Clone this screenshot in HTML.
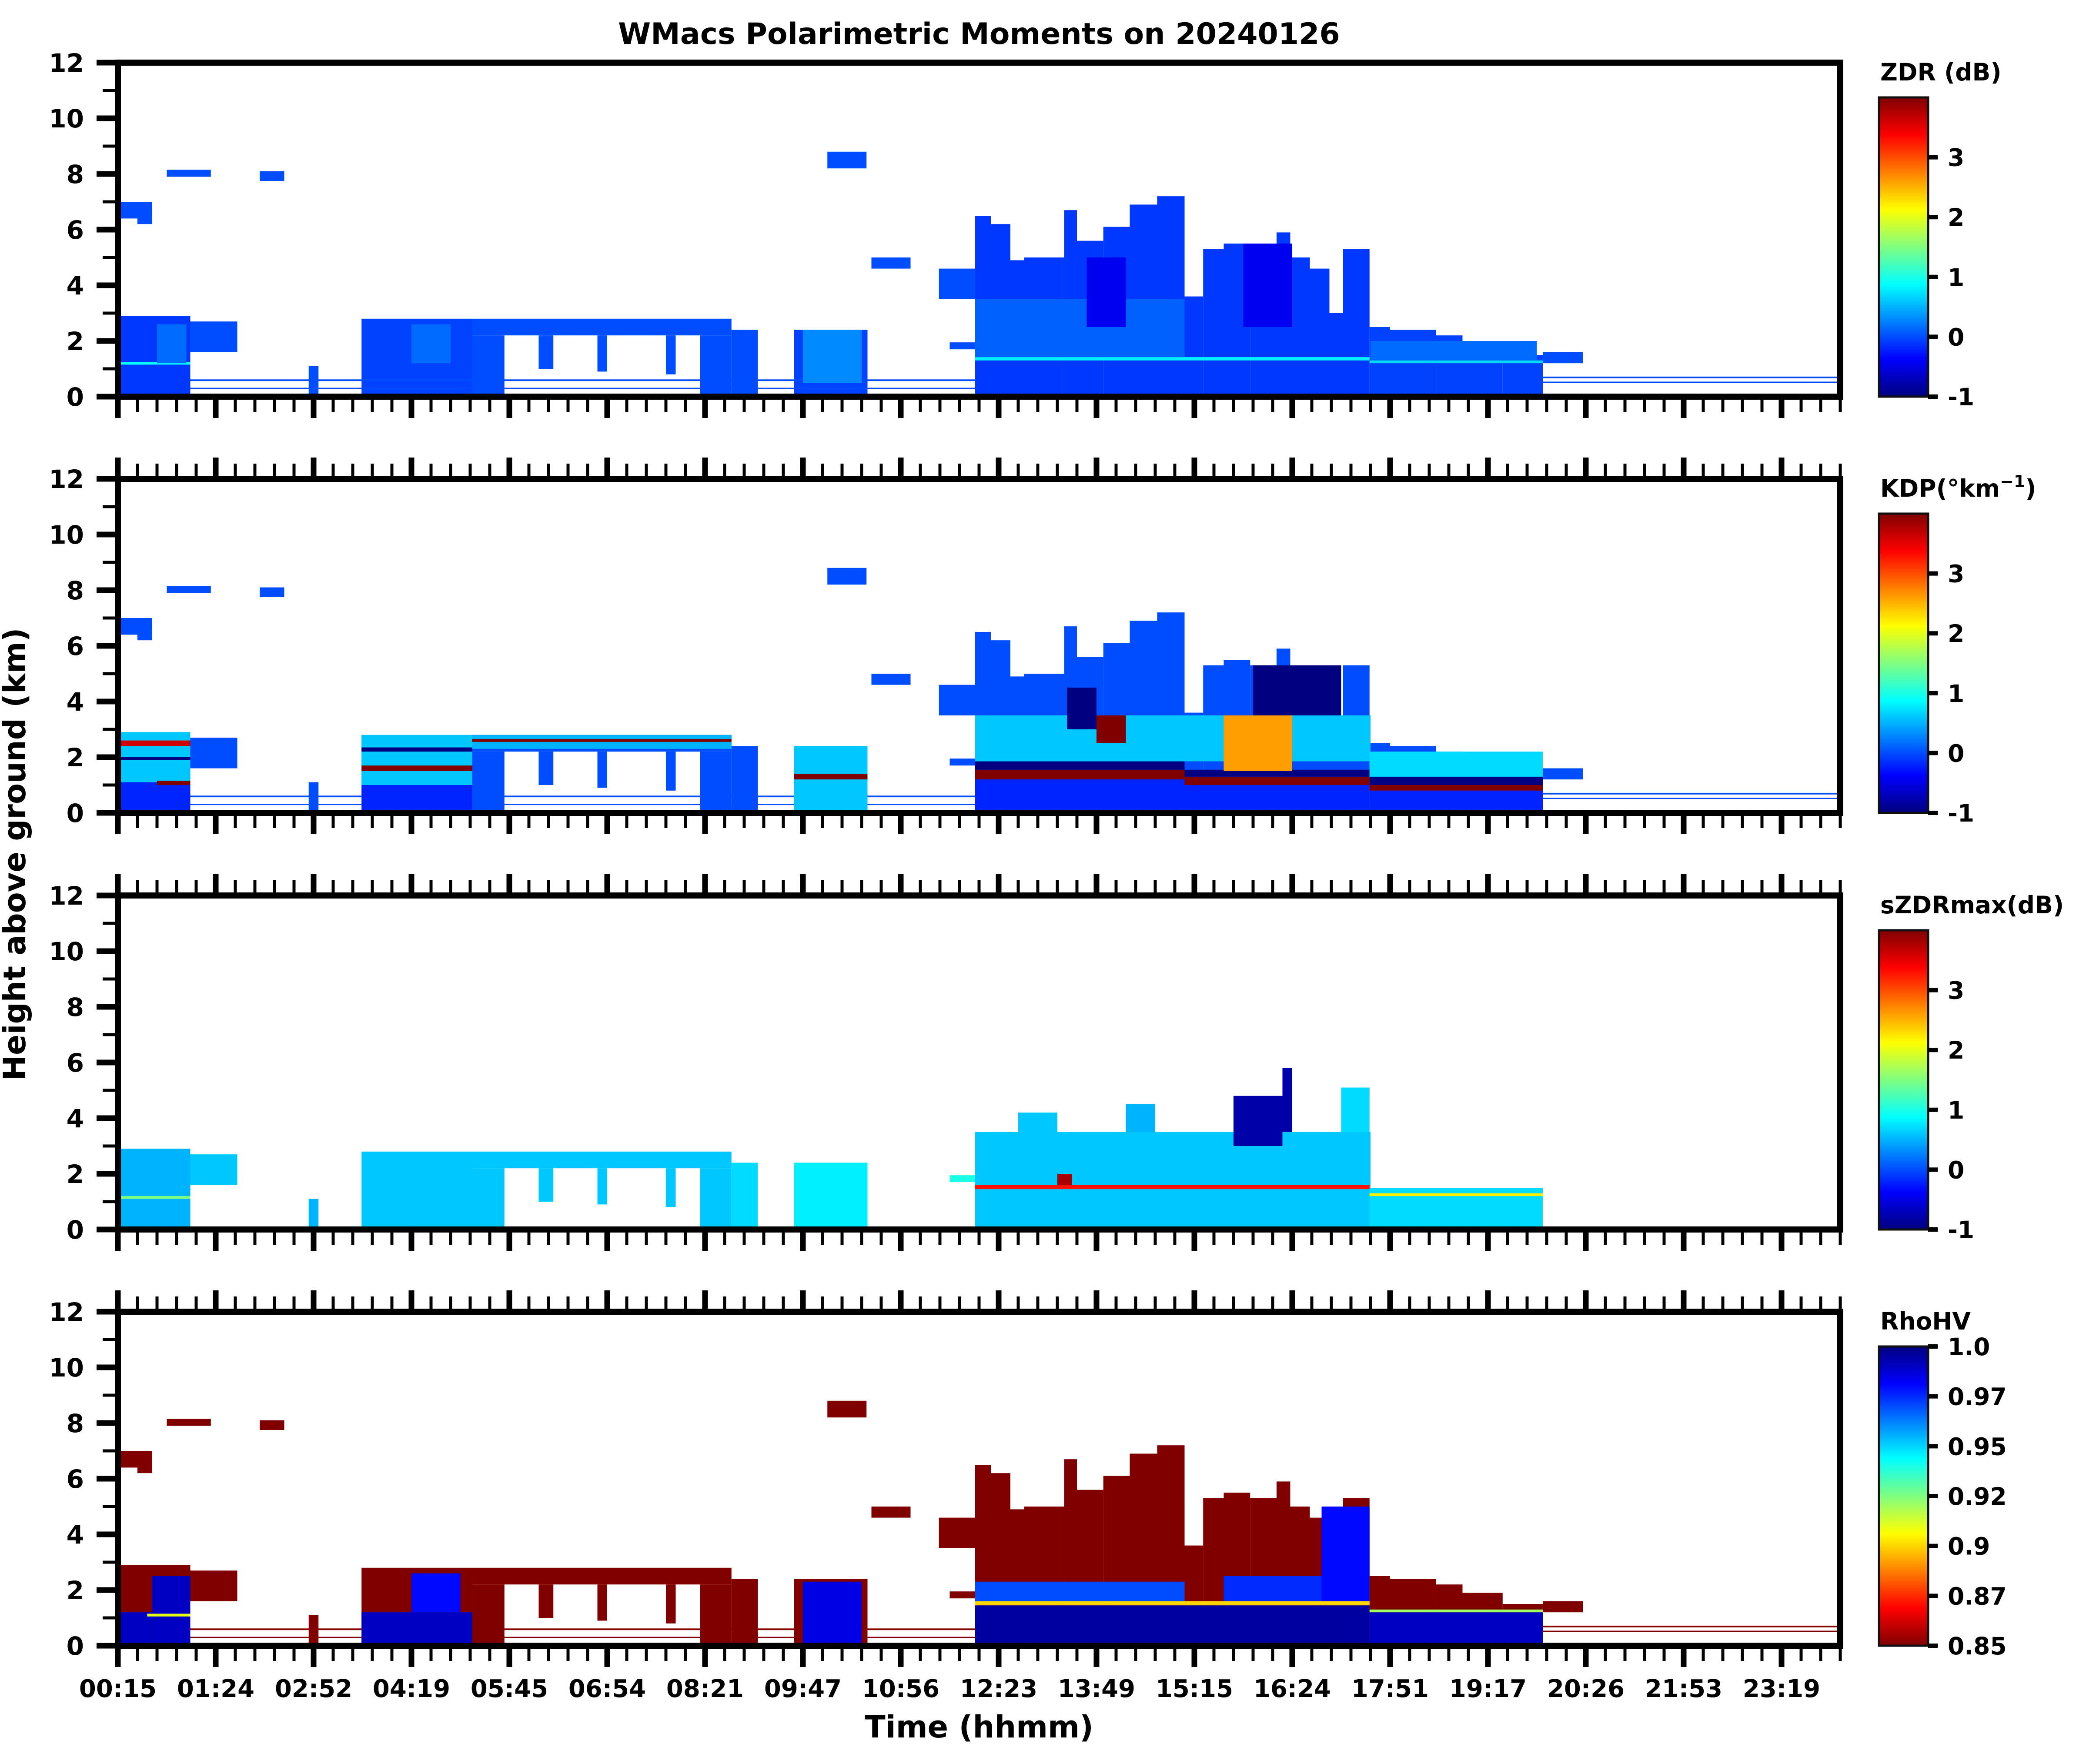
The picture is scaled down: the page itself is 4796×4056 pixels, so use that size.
<!DOCTYPE html>
<html><head><meta charset="utf-8"><style>
html,body{margin:0;padding:0;background:#fff;}
svg{display:block;font-family:"DejaVu Sans","Liberation Sans",sans-serif;font-weight:bold;}
</style></head><body>
<svg id="fig" width="4796" height="4056" viewBox="0 0 4796 4056" xmlns="http://www.w3.org/2000/svg">
<defs>
<linearGradient id="jetGrad" x1="0" y1="1" x2="0" y2="0">
<stop offset="0" stop-color="#000080"/><stop offset="0.125" stop-color="#0000ff"/><stop offset="0.375" stop-color="#00ffff"/><stop offset="0.5" stop-color="#80ff80"/><stop offset="0.625" stop-color="#ffff00"/><stop offset="0.875" stop-color="#ff0000"/><stop offset="1" stop-color="#800000"/>
</linearGradient>
<linearGradient id="jetGradR" x1="0" y1="0" x2="0" y2="1">
<stop offset="0" stop-color="#000080"/><stop offset="0.125" stop-color="#0000ff"/><stop offset="0.375" stop-color="#00ffff"/><stop offset="0.5" stop-color="#80ff80"/><stop offset="0.625" stop-color="#ffff00"/><stop offset="0.875" stop-color="#ff0000"/><stop offset="1" stop-color="#800000"/>
</linearGradient>
</defs>
<text x="2251" y="101" font-size="68" text-anchor="middle">WMacs Polarimetric Moments on 20240126</text>
<text x="2251" y="3995" font-size="70" text-anchor="middle">Time (hhmm)</text>
<text x="0" y="0" font-size="70" text-anchor="middle" transform="translate(58,1964) rotate(-90)">Height above ground (km)</text>
</svg>
<script>
// ---- data ----
const timeTickLabels = ["00:15","01:24","02:52","04:19","05:45","06:54","08:21","09:47","10:56","12:23","13:49","15:15","16:24","17:51","19:17","20:26","21:53","23:19"];
const heightTicks = [0,2,4,6,8,10,12];
const panelTitles = ["ZDR (dB)","KDP","sZDRmax(dB)","RhoHV"];
const zdrCbarTicks = [-1,0,1,2,3];
const rhoCbarTicks = [0.85,0.875,0.9,0.925,0.95,0.975,1.0];
const rhoCbarLabels = ["0.85","0.87","0.9","0.92","0.95","0.97","1.0"];
// shared echo cells: [t0,t1,h0,h1] in time-tick units / km
const cloudCells = [
 [0,0.74,0,2.9],[0.74,1.22,1.6,2.7],[0.02,0.35,6.4,7.0],[0.2,0.35,6.2,6.5],[0.5,0.95,7.9,8.15],[1.45,1.7,7.75,8.1],
 [1.95,2.05,0,1.1],[2.49,3.62,0,2.8],[3.62,6.27,2.2,2.8],[3.62,3.95,0,2.2],[4.3,4.45,1.0,2.2],[4.9,5.0,0.9,2.2],
 [5.6,5.7,0.8,2.2],[5.95,6.27,0,2.2],[6.27,6.54,0,2.4],[6.91,7.66,0,2.4],[7.7,8.1,4.6,5.0],[7.25,7.65,8.2,8.8],
 [8.39,8.76,3.5,4.6],[8.5,8.76,1.7,1.95],
 [8.76,8.92,0,6.5],[8.92,9.12,0,6.2],[9.12,9.26,0,4.9],[9.26,9.67,0,5.0],[9.67,9.8,0,6.7],[9.8,10.07,0,5.6],
 [10.07,10.34,0,6.1],[10.34,10.62,0,6.9],[10.62,10.9,0,7.2],[10.9,11.09,0,3.6],[11.09,11.3,0,5.3],[11.3,11.57,0,5.5],
 [11.57,11.84,0,5.3],[11.84,11.98,0,5.9],[11.98,12.18,0,5.0],[12.18,12.38,0,4.6],[12.38,12.52,0,3.0],[12.52,12.79,0,5.3],
 [12.79,13.0,0,2.5],[13.0,13.47,0,2.4],[13.47,13.74,0,2.2],[13.74,14.15,0,1.9],[14.15,14.56,0,1.5],[14.56,14.97,1.2,1.6],
 [0.74,8.76,0.56,0.62],[0.74,8.76,0.28,0.32],[14.56,17.6,0.66,0.72],[14.56,17.6,0.5,0.54]
];
const zdrCellValues = [-0.1,0,0,0,0,0, 0,-0.05,0,0,0,0, 0,0,0,-0.05,0,0, 0,0,
 -0.1,-0.1,-0.1,-0.1,-0.1,-0.1,-0.1,-0.1,-0.1,-0.1,-0.1,-0.1,-0.1,-0.1,-0.1,-0.1,-0.1,-0.1,
 -0.05,-0.05,-0.05,-0.05,-0.05,0, 0,0,0,0];
const kdpCellValues = [0.3,0,0,0,0,0, 0,0.5,0,0,0,0, 0,0,0,0.5,0,0, 0,0,
 0,0,0,0,0,0,0,0,0,0,0,0,0,0,0,0,0,0,
 0,0,0,0,0,0, 0,0,0,0];
const szdrCellValues = [0.5,0.6,null,null,null,null, 0.5,0.6,0.6,0.6,0.6,0.6, 0.6,0.6,0.7,0.8,null,null, null,1.0,
 null,null,null,null,null,null,null,null,null,null,null,null,null,null,null,null,null,null,
 null,null,null,null,null,null, null,null,null,null];
const rhoCellValues = [0.85,0.85,0.85,0.85,0.85,0.85, 0.85,0.85,0.85,0.85,0.85,0.85, 0.85,0.85,0.85,0.85,0.85,0.85, 0.85,0.85,
 0.85,0.85,0.85,0.85,0.85,0.85,0.85,0.85,0.85,0.85,0.85,0.85,0.85,0.85,0.85,0.85,0.85,0.85,
 0.85,0.85,0.85,0.85,0.85,0.85, 0.85,0.85,0.85,0.85];
// panel-specific features [t0,t1,h0,h1,value]
const zdrFeatures = [[0,0.74,1.15,1.25,0.9],[0.4,0.7,1.2,2.6,0.15],[3.0,3.4,1.2,2.6,0.15],[7.0,7.6,0.5,2.4,0.3],
 [8.76,12.79,1.3,1.42,0.8],[8.76,10.9,1.42,3.5,0.1],[9.9,10.3,2.5,5.0,-0.45],[11.5,12.0,2.5,5.5,-0.45],[12.79,14.56,1.2,1.3,0.7],[12.8,14.5,1.3,2.0,0.15]];
const kdpFeatures = [[0,0.74,0,1.1,-0.2],[0,0.74,1.1,2.9,0.6],[0,0.74,2.4,2.6,3.6],[0,0.74,1.9,2.0,-1],[0.4,0.74,1.0,1.15,4],
 [2.49,3.62,0,1.0,-0.2],[2.49,3.62,1.0,2.8,0.6],[2.49,3.62,1.5,1.7,4],[2.49,3.62,2.2,2.35,-1],
 [3.62,6.27,2.3,2.8,0.5],[3.62,6.27,2.55,2.65,4],[6.91,7.66,0,2.4,0.6],[6.91,7.66,1.2,1.4,4],
 [8.76,12.79,0,1.2,-0.2],[8.76,10.9,1.2,1.55,4],[8.76,10.9,1.55,1.85,-1],[8.76,12.8,1.85,3.5,0.6],[10.9,12.79,1.0,1.3,4],
 [10.9,12.79,1.3,1.55,-1],[11.3,12.0,1.5,3.5,2.6],[9.7,10.0,3.0,4.5,-1],[10.0,10.3,2.5,3.5,4],[11.6,12.5,3.5,5.3,-1],
 [12.79,14.56,0,0.8,-0.2],[12.79,14.56,0.8,1.0,4],[12.79,14.56,1.0,1.3,-1],[12.79,14.56,1.3,2.2,0.7]];
const szdrFeatures = [[8.76,10.9,0,3.5,0.6],[9.2,9.6,3.5,4.2,0.6],[10.3,10.6,3.5,4.5,0.5],[10.9,12.8,0,3.5,0.6],
 [11.4,11.9,3.0,4.8,-0.8],[11.9,12.0,3.5,5.8,-0.8],[12.5,12.79,3.5,5.1,0.7],[12.79,14.56,0,1.5,0.7],
 [8.76,12.79,1.45,1.6,3.3],[9.6,9.75,1.6,2.0,3.8],[12.79,14.56,1.2,1.3,2.2],[0,0.74,1.1,1.2,1.5]];
const rhoFeatures = [[0.35,0.74,0,2.5,0.99],[0,0.35,0,1.2,0.99],[2.49,3.62,0,1.2,0.99],[3.0,3.5,1.2,2.6,0.98],
 [7.0,7.6,0,2.3,0.985],[8.76,12.79,0,1.45,0.995],[8.76,12.79,1.45,1.6,0.9],[8.76,10.9,1.6,2.3,0.97],
 [11.3,12.3,1.6,2.5,0.975],[12.3,12.79,1.6,5.0,0.98],[12.79,14.56,0,1.2,0.99],[12.79,14.56,1.2,1.3,0.92],[0.3,0.74,1.05,1.15,0.91]];
// ---- layout ----
const svg=document.getElementById('fig');
const NS='http://www.w3.org/2000/svg';
const X0=271,X1=4231,TU=225,PH=768;
const panelTops=[144,1101,2059,3016];
function xPos(t){return X0+TU*t;}
function yPos(top,h){return top+PH-h*PH/12;}
function jet(t){t=Math.max(0,Math.min(1,t));const c=v=>Math.round(255*Math.max(0,Math.min(1,v)));
 return `rgb(${c(1.5-Math.abs(4*t-3))},${c(1.5-Math.abs(4*t-2))},${c(1.5-Math.abs(4*t-1))})`;}
const cmaps=[v=>jet((v+1)/5),v=>jet((v+1)/5),v=>jet((v+1)/5),v=>jet(1-(v-0.85)/0.15)];
function el(tag,attrs,parent){const e=document.createElementNS(NS,tag);for(const k in attrs)e.setAttribute(k,attrs[k]);(parent||svg).appendChild(e);return e;}
const cellVals=[zdrCellValues,kdpCellValues,szdrCellValues,rhoCellValues];
const feats=[zdrFeatures,kdpFeatures,szdrFeatures,rhoFeatures];
const names=['zdr','kdp','szdrmax','rhohv'];
panelTops.forEach((top,p)=>{
 const g=el('g',{});
 
 
 const cm=cmaps[p];
 cloudCells.forEach((c,i)=>{const v=cellVals[p][i]; if(v===null||v===undefined)return;
  const r=el('rect',{x:xPos(c[0]),y:yPos(top,c[3]),width:xPos(c[1])-xPos(c[0]),height:yPos(top,c[2])-yPos(top,c[3]),fill:cm(v)},g);
  
  });
 feats[p].forEach(f=>{
  const r=el('rect',{x:xPos(f[0]),y:yPos(top,f[3]),width:xPos(f[1])-xPos(f[0]),height:yPos(top,f[2])-yPos(top,f[3]),fill:cm(f[4])},g);
  
  });
 const fr=el('rect',{x:X0,y:top,width:X1-X0,height:PH,fill:'none',stroke:'#000','stroke-width':14});
 
 
 for(let h=0;h<=12;h++){const y=yPos(top,h),maj=h%2===0;
  const t=el('line',{x1:X0-(maj?49:35),x2:X0,y1:y,y2:y,stroke:'#000','stroke-width':maj?13:7});
  
  }
 heightTicks.forEach(h=>{const t=el('text',{x:193,y:yPos(top,h)+21,'font-size':58,'text-anchor':'end'});t.textContent=h;
  
  });
 for(let k=0;k<=88;k++){const x=X0+45*k,maj=k%5===0;
  const t=el('line',{x1:x,x2:x,y1:top+PH,y2:top+PH+(maj?49:35),stroke:'#000','stroke-width':maj?13:7});
  
  
  if(p>0){const t2=el('line',{x1:x,x2:x,y1:top,y2:top-(maj?49:35),stroke:'#000','stroke-width':maj?13:7});
  
  }}
 const cb=el('rect',{x:4320,y:top+80,width:113,height:PH-80,fill:p===3?'url(#jetGradR)':'url(#jetGrad)',stroke:'#111','stroke-width':5});
 
 
 const ct=el('text',{x:4323,y:top+41,'font-size':55});
 if(p===1){ct.innerHTML='KDP(°km<tspan dy="-22" font-size="38">−1</tspan><tspan dy="22">)</tspan>';}
 else ct.textContent=panelTitles[p];
 
 
 const cy0=top+80,cy1=top+PH;
 const ticks=p===3?rhoCbarTicks:zdrCbarTicks;
 ticks.forEach((v,i)=>{const fr2=p===3?(v-0.85)/0.15:(v+1)/5; const y=cy1-fr2*(cy1-cy0);
  const l=el('line',{x1:4433,x2:4455,y1:y,y2:y,stroke:'#000','stroke-width':10});
  
  
  const t=el('text',{x:4478,y:y+20,'font-size':55});t.textContent=p===3?rhoCbarLabels[i]:String(v);
  
  });
});
timeTickLabels.forEach((s,i)=>{const t=el('text',{x:xPos(i),y:3902,'font-size':56,'text-anchor':'middle'});t.textContent=s;
 
 });
</script>
</body></html>
